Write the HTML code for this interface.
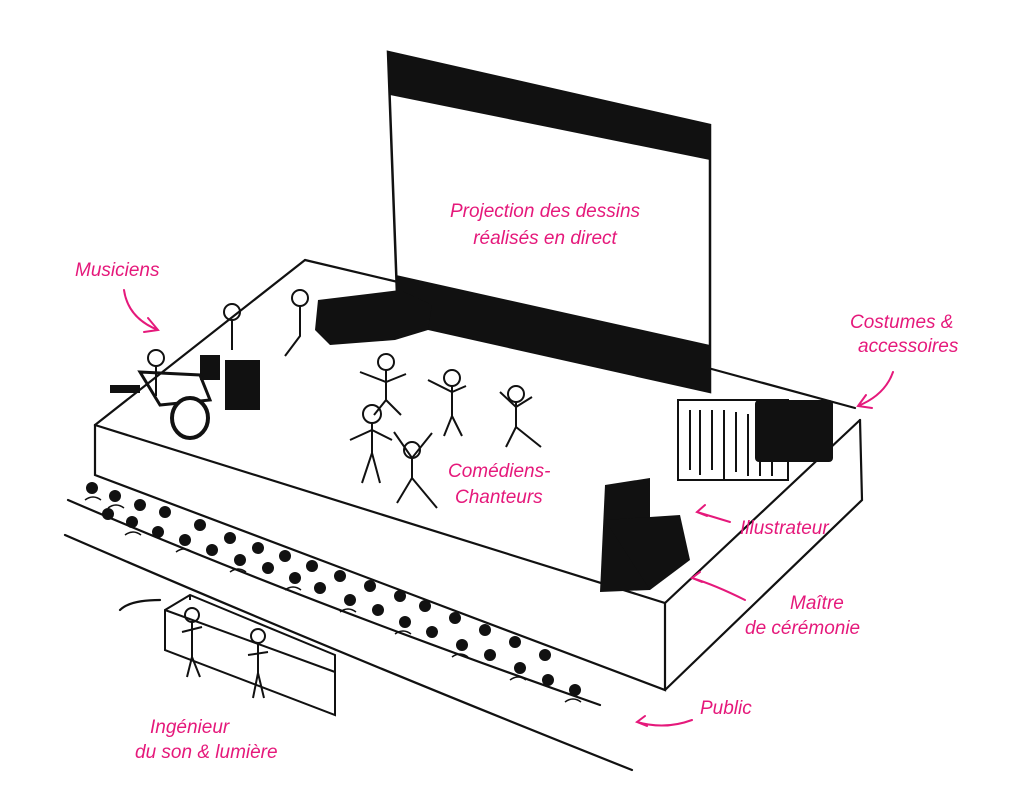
<!DOCTYPE html>
<html><head><meta charset="utf-8"><style>
html,body{margin:0;padding:0;background:#fff;}
svg{display:block}
.l{font-family:"Liberation Sans",sans-serif;fill:#e5197b;font-size:19px;font-style:italic}
</style></head><body>
<svg width="1024" height="807" viewBox="0 0 1024 807" xmlns="http://www.w3.org/2000/svg">
<g fill="none" stroke="#111" stroke-width="2.2" stroke-linecap="round">
<!-- stage top -->
<path d="M305,260 L398,282"/>
<path d="M305,260 L95,425"/>
<path d="M708,368 L855,408"/>
<path d="M95,425 L665,603 L860,420"/>
<path d="M95,425 L95,475 L665,690 L665,603"/>
<path d="M665,690 L862,500 L860,420"/>
<!-- floor/audience curves -->
<path d="M68,500 Q300,600 600,705"/>
<path d="M65,535 Q330,650 632,770"/>
<path d="M120,610 Q130,600 160,600"/>
</g>
<!-- screen -->
<polygon points="388,52 710,125 710,392 398,322" fill="#fff" stroke="#111" stroke-width="2.5"/>
<polygon points="388,52 710,125 710,160 390,95" fill="#111"/>
<polygon points="396,275 710,345 710,392 398,322" fill="#111"/>
<!-- musicians area -->
<g fill="#111">
<path d="M318,300 L400,290 L432,305 L428,330 L395,340 L330,345 L315,330Z"/>
<rect x="225" y="360" width="35" height="50"/>
<rect x="200" y="355" width="20" height="25"/>
<path d="M140,372 L200,375 L210,400 L160,405Z" fill="none" stroke="#111" stroke-width="3"/>
<ellipse cx="190" cy="418" rx="18" ry="20" fill="#fff" stroke="#111" stroke-width="4"/>
<rect x="110" y="385" width="30" height="8"/>
<!-- costume -->
<rect x="755" y="400" width="78" height="62" rx="4"/>
<!-- desk -->
<path d="M605,485 L650,478 L650,590 L600,592Z"/>
<path d="M605,520 L680,515 L690,560 L650,590Z"/>
</g>
<g fill="none" stroke="#111" stroke-width="2">
<rect x="678" y="400" width="110" height="80"/>
<path d="M690,410 v60 M700,410 v65 M712,410 v60 M724,410 v70 M736,412 v60 M748,414 v62 M760,416 v60 M772,418 v58"/>
<!-- performers -->
<circle cx="386" cy="362" r="8"/><path d="M386,370 v30 l-12,15 M386,400 l15,15 M360,372 l26,10 l20,-8"/>
<circle cx="452" cy="378" r="8"/><path d="M452,386 v30 l-8,20 M452,416 l10,20 M428,380 l24,12 l14,-6"/>
<circle cx="516" cy="394" r="8"/><path d="M516,402 v25 l-10,20 M516,427 l25,20 M500,392 l16,15 l16,-10"/>
<circle cx="372" cy="414" r="9"/><path d="M372,423 v30 l-10,30 M372,453 l8,30 M350,440 l22,-10 l20,10"/>
<circle cx="412" cy="450" r="8"/><path d="M412,458 v20 l-15,25 M412,478 l25,30 M394,432 l18,26 l20,-25"/>
<circle cx="300" cy="298" r="8"/><path d="M300,306 v30 l-15,20"/>
<circle cx="232" cy="312" r="8"/><path d="M232,320 v30"/>
<circle cx="156" cy="358" r="8"/><path d="M156,366 v30"/>
<!-- console -->
<path d="M165,610 L190,595 L335,655 L335,715 L165,650Z"/>
<path d="M190,595 L190,600 M165,610 L335,672"/>
<circle cx="192" cy="615" r="7"/><path d="M192,622 v35 l-5,20 M192,657 l8,20 M182,632 l20,-5"/>
<circle cx="258" cy="636" r="7"/><path d="M258,643 v30 l-5,25 M258,673 l6,25 M248,655 l20,-3"/>
</g>
<!-- audience heads -->
<g fill="#111">
<circle cx="92" cy="488" r="6"/><circle cx="115" cy="496" r="6"/><circle cx="140" cy="505" r="6"/><circle cx="165" cy="512" r="6"/>
<circle cx="108" cy="514" r="6"/><circle cx="132" cy="522" r="6"/><circle cx="158" cy="532" r="6"/><circle cx="185" cy="540" r="6"/><circle cx="212" cy="550" r="6"/>
<circle cx="200" cy="525" r="6"/><circle cx="230" cy="538" r="6"/><circle cx="240" cy="560" r="6"/><circle cx="268" cy="568" r="6"/><circle cx="258" cy="548" r="6"/>
<circle cx="295" cy="578" r="6"/><circle cx="285" cy="556" r="6"/><circle cx="320" cy="588" r="6"/><circle cx="312" cy="566" r="6"/><circle cx="340" cy="576" r="6"/>
<circle cx="350" cy="600" r="6"/><circle cx="378" cy="610" r="6"/><circle cx="370" cy="586" r="6"/><circle cx="400" cy="596" r="6"/>
<circle cx="405" cy="622" r="6"/><circle cx="432" cy="632" r="6"/><circle cx="425" cy="606" r="6"/><circle cx="455" cy="618" r="6"/>
<circle cx="462" cy="645" r="6"/><circle cx="490" cy="655" r="6"/><circle cx="485" cy="630" r="6"/><circle cx="515" cy="642" r="6"/>
<circle cx="520" cy="668" r="6"/><circle cx="548" cy="680" r="6"/><circle cx="575" cy="690" r="6"/><circle cx="545" cy="655" r="6"/>
</g>
<g fill="none" stroke="#111" stroke-width="1.5">
<path d="M85,500 q8,-6 16,0 M108,508 q8,-6 16,0 M125,535 q8,-6 16,0 M176,552 q8,-6 16,0 M230,572 q8,-6 16,0 M285,590 q8,-6 16,0 M340,612 q8,-6 16,0 M395,634 q8,-6 16,0 M452,657 q8,-6 16,0 M510,680 q8,-6 16,0 M565,702 q8,-6 16,0"/>
</g>
<!-- arrows -->
<g fill="none" stroke="#e5197b" stroke-width="2" stroke-linecap="round">
<path d="M124,290 Q128,318 158,330 M148,318 l10,12 l-14,2"/>
<path d="M893,372 Q885,395 858,406 M866,395 l-8,11 l14,2"/>
<path d="M730,522 L697,512 M705,505 l-8,7 l10,4"/>
<path d="M745,600 Q715,585 692,578 M700,572 l-8,6 l10,4"/>
<path d="M692,720 Q665,730 637,722 M645,716 l-8,6 l10,4"/>
</g>
<text class="l" x="545" y="217" text-anchor="middle">Projection des dessins</text>
<text class="l" x="545" y="244" text-anchor="middle">réalisés en direct</text>
<text class="l" x="75" y="276">Musiciens</text>
<text class="l" x="850" y="328">Costumes &amp;</text>
<text class="l" x="858" y="352">accessoires</text>
<text class="l" x="448" y="477">Comédiens-</text>
<text class="l" x="455" y="503">Chanteurs</text>
<text class="l" x="740" y="534">Illustrateur</text>
<text class="l" x="790" y="609">Maître</text>
<text class="l" x="745" y="634">de cérémonie</text>
<text class="l" x="700" y="714">Public</text>
<text class="l" x="150" y="733">Ingénieur</text>
<text class="l" x="135" y="758">du son &amp; lumière</text>
</svg>
</body></html>
